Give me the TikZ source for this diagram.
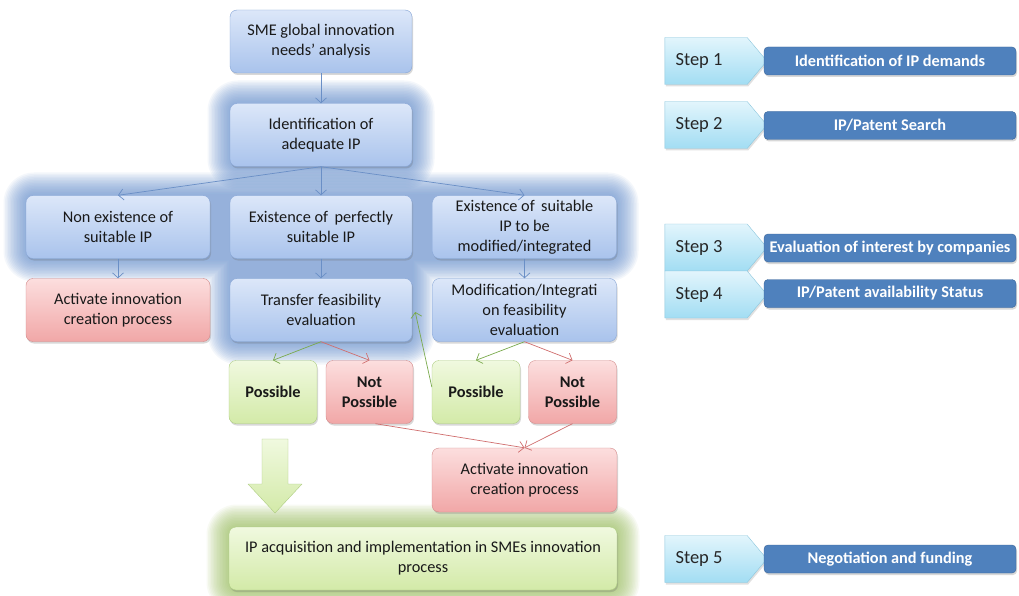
\documentclass[tikz,border=0pt]{standalone}
\usepackage{fontspec}
\setmainfont{Carlito}
\usetikzlibrary{shapes.symbols,arrows.meta,shadows,calc}
\definecolor{btop}{HTML}{DCE7F9}
\definecolor{bbot}{HTML}{A9C3EC}
\definecolor{bbord}{HTML}{86A5D6}
\definecolor{rtop}{HTML}{FCDEDE}
\definecolor{rbot}{HTML}{F1A7A7}
\definecolor{rbord}{HTML}{D38B8B}
\definecolor{gtop}{HTML}{F0F9DF}
\definecolor{gbot}{HTML}{D3EAA8}
\definecolor{gbord}{HTML}{AECD82}
\definecolor{ctop}{HTML}{E2F5FC}
\definecolor{cbot}{HTML}{A2DDF3}
\definecolor{cbord}{HTML}{8CC6DD}
\definecolor{dfill}{HTML}{4F81BD}
\definecolor{dbord}{HTML}{3B6699}
\definecolor{glowb}{HTML}{6792D0}
\definecolor{glowg}{HTML}{9CC060}
\definecolor{arrb}{HTML}{6A8FC6}
\definecolor{arrg}{HTML}{7AAA4C}
\definecolor{arrr}{HTML}{D06E6E}
\tikzset{
  boxbase/.style={rounded corners=7pt, align=center, text=black!90,
    font=\fontsize{16.3}{20}\selectfont, inner sep=2pt,
    drop shadow={shadow xshift=1pt, shadow yshift=-2pt, opacity=0.25, fill=black!60}},
  bluebox/.style={boxbase, draw=bbord, top color=btop, bottom color=bbot,
    minimum width=182pt, minimum height=63pt},
  redbox/.style={boxbase, draw=rbord, top color=rtop, bottom color=rbot,
    minimum width=184pt, minimum height=63pt},
  greenbox/.style={boxbase, draw=gbord, top color=gtop, bottom color=gbot,
    minimum width=184pt, minimum height=63pt},
  smallbox/.style={minimum width=87pt, minimum height=63pt,
    font=\bfseries\fontsize{16.3}{20}\selectfont},
  chev/.style={shape=signal, signal to=east, signal pointer angle=100,
    draw=cbord, top color=ctop, bottom color=cbot, minimum width=102pt,
    minimum height=47pt, inner sep=0pt, font=\fontsize{18.5}{20}\selectfont,
    text=black!85, drop shadow={shadow xshift=1pt, shadow yshift=-2pt, opacity=0.2, fill=black!60}},
  darkbox/.style={draw=dbord, fill=dfill, rounded corners=4pt, minimum width=252pt,
    minimum height=28pt, inner sep=0pt, text=white, font=\bfseries\fontsize{16.3}{18}\selectfont,
    drop shadow={shadow xshift=1pt, shadow yshift=-2pt, opacity=0.25, fill=black!60}},
  barr/.style={draw=arrb, line width=0.7pt, -{Straight Barb[length=5pt,width=11pt,line width=0.7pt]}},
  garr/.style={barr, draw=arrg},
  rarr/.style={barr, draw=arrr},
}
\begin{document}
\begin{tikzpicture}[x=1pt,y=-1pt]
\useasboundingbox (0,0) rectangle (1019,596);
\fill[white] (0,0) rectangle (1019,596);
% glows
\foreach \i in {1,...,15} {
  \pgfmathsetmacro{\d}{1.5*\i}
  \pgfmathsetmacro{\rr}{8+1.5*\i}
  \begin{scope}[transparency group, opacity=0.07]
    \fill[glowb, rounded corners=\rr pt] (230-\d,103-\d) rectangle (412+\d,167+\d);
  \end{scope}
  \begin{scope}[transparency group, opacity=0.07]
    \fill[glowb, rounded corners=\rr pt] (26-\d,195-\d) rectangle (616+\d,259+\d);
    \fill[glowb, rounded corners=\rr pt] (230-\d,240) rectangle (412+\d,342+\d);
  \end{scope}
  \begin{scope}[transparency group, opacity=0.07]
    \fill[glowg, rounded corners=\rr pt] (229-\d,527-\d) rectangle (617+\d,590+\d);
  \end{scope}
}
% nodes
\node[bluebox] (sme) at (321,41.5) {SME global innovation\\needs’ analysis};
\node[bluebox] (ident) at (321,135) {Identification of\\adequate IP};
\node[bluebox, minimum width=184pt] (non) at (118,227) {Non existence of\\suitable IP};
\node[bluebox] (exist) at (321,227) {Existence of\, perfectly\\suitable IP};
\node[bluebox, minimum width=184pt] (exmod) at (524.5,227) {Existence of\, suitable\\IP to be\\modified/integrated};
\node[redbox] (act1) at (118,310) {Activate innovation\\creation process};
\node[bluebox] (trans) at (321,310) {Transfer feasibility\\evaluation};
\node[bluebox, minimum width=184pt] (modi) at (524.5,310) {Modification/Integrati\\on feasibility\\evaluation};
\node[greenbox, smallbox, minimum width=88pt] (pos1) at (273,392) {Possible};
\node[redbox, smallbox] (np1) at (369.5,392) {Not\\Possible};
\node[greenbox, smallbox, minimum width=88pt] (pos2) at (476,392) {Possible};
\node[redbox, smallbox, minimum width=88pt] (np2) at (572.5,392) {Not\\Possible};
\node[redbox, minimum width=185pt, minimum height=64pt] (act2) at (524.5,480) {Activate innovation\\creation process};
\node[greenbox, minimum width=388pt] (ip) at (423,558.5) {IP acquisition and implementation in SMEs innovation\\process};
% block arrow
\draw[gbord, top color=gtop, bottom color=gbot, line join=round]
  (262,439) -- (288,439) -- (288,484) -- (302,484) -- (275,513) -- (248,484) -- (262,484) -- cycle;
% connectors
\draw[barr] (sme.south) -- (ident.north);
\draw[barr] (ident.south) -- (non.north);
\draw[barr] (ident.south) -- (exist.north);
\draw[barr] (ident.south) -- (exmod.north);
\draw[barr] (non.south) -- (act1.north);
\draw[barr] (exist.south) -- (trans.north);
\draw[barr] (exmod.south) -- (modi.north);
\draw[garr] (trans.south) -- (pos1.north);
\draw[rarr] (trans.south) -- (np1.north);
\draw[garr] (modi.south) -- (pos2.north);
\draw[rarr] (modi.south) -- (np2.north);
\draw[garr] ($(pos2.west)+(0,-5)$) -- ($(trans.east)+(3,2)$);
\draw[rarr] ($(np1.south)+(6,0)$) -- (act2.north);
\draw[rarr] (np2.south) -- (act2.north);
% steps
\node[chev] (s1) at (706,61) {Step 1\hspace*{14pt}};
\node[darkbox] (d1) at (890,61) {Identification of IP demands};
\node[chev] (s2) at (706,125) {Step 2\hspace*{14pt}};
\node[darkbox] (d2) at (890,125.5) {IP/Patent Search};
\node[chev] (s3) at (706,247.5) {Step 3\hspace*{14pt}};
\node[darkbox] (d3) at (890,248) {Evaluation of interest by companies};
\node[chev] (s4) at (706,294.5) {Step 4\hspace*{14pt}};
\node[darkbox] (d4) at (890,293.5) {IP/Patent availability Status};
\node[chev] (s5) at (706,559) {Step 5\hspace*{14pt}};
\node[darkbox] (d5) at (890,559) {Negotiation and funding};
\end{tikzpicture}
\end{document}
